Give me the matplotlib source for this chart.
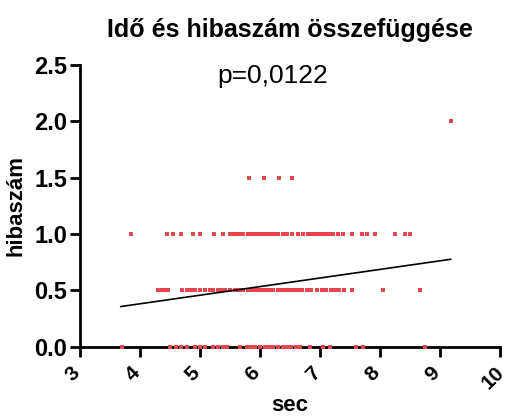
import matplotlib.pyplot as plt
import matplotlib.transforms as mtransforms
import numpy as np

plt.rcParams['font.family'] = ['Liberation Sans', 'DejaVu Sans']

# hibaszám szintek és a hozzájuk tartozó idők (sec)
sec_2 = [9.18]
sec_15 = [5.82, 6.07, 6.32, 6.53]
sec_1 = [3.85, 4.45, 4.55, 4.68, 4.88, 5.0, 5.23, 5.38, 5.5, 5.55, 5.6, 5.67, 5.72,
         5.8, 5.85, 5.9, 5.95, 6.0, 6.05, 6.1, 6.15, 6.2, 6.25, 6.3, 6.38,
         6.45, 6.53, 6.63, 6.72, 6.8, 6.85, 6.9, 6.95, 7.0, 7.05, 7.1, 7.17, 7.22,
         7.3, 7.38, 7.53, 7.7, 7.78, 7.92, 8.25, 8.42, 8.5]
sec_05 = [4.3, 4.35, 4.42, 4.47, 4.7, 4.78, 4.85, 4.92, 5.0, 5.08, 5.17, 5.22, 5.3,
          5.35, 5.42, 5.5, 5.58, 5.65, 5.72, 5.8, 5.85, 5.9, 5.95, 6.0, 6.05, 6.1,
          6.15, 6.22, 6.3, 6.35, 6.4, 6.45, 6.5, 6.55, 6.6, 6.65, 6.7, 6.78, 6.85,
          6.95, 7.03, 7.1, 7.18, 7.25, 7.32, 7.4, 7.53, 8.05, 8.67]
sec_0 = [3.7, 4.5, 4.6, 4.68, 4.78, 4.92, 5.0, 5.08, 5.22, 5.3, 5.38, 5.45, 5.67,
         5.78, 5.85, 5.92, 6.0, 6.08, 6.15, 6.22, 6.3, 6.38, 6.45, 6.52, 6.6, 6.67,
         6.83, 7.05, 7.17, 7.6, 7.72, 8.75]

# regressziós egyenes végpontjai
line_x = [3.68, 9.18]
line_y = [0.355, 0.775]

fig = plt.figure(figsize=(5.06, 4.17), dpi=100)
ax = fig.add_axes([0.158, 0.169, 0.83, 0.675])

red = '#E5474C'
for xs, yv in [(sec_2, 2.0), (sec_15, 1.5), (sec_1, 1.0), (sec_05, 0.5), (sec_0, 0.0)]:
    ax.scatter(xs, [yv] * len(xs), marker='s', s=5, color=red, lw=0, zorder=3, clip_on=False)

ax.plot(line_x, line_y, color='black', lw=1.2, zorder=4)

ax.set_xlim(3, 10)
ax.set_ylim(0, 2.5)
ax.set_xticks(range(3, 11))
ax.set_yticks(np.arange(0, 2.51, 0.5))
ax.set_yticklabels([f'{v:.1f}' for v in np.arange(0, 2.51, 0.5)])

for s in ['top', 'right']:
    ax.spines[s].set_visible(False)
for s in ['left', 'bottom']:
    ax.spines[s].set_linewidth(2)
ax.tick_params(direction='out', length=7, width=2, labelsize=17)
ax.tick_params(axis='x', pad=5, labelsize=15)
ax.tick_params(axis='y', pad=2)
shift = mtransforms.ScaledTranslation(-7 / 100, 0, fig.dpi_scale_trans)
for lab in ax.get_xticklabels():
    lab.set_rotation(45)
    lab.set_ha('center')
    lab.set_va('top')
    lab.set_transform(lab.get_transform() + shift)
for lab in ax.get_xticklabels() + ax.get_yticklabels():
    lab.set_fontweight('bold')

ax.set_xlabel('sec', fontsize=16, fontweight='bold', va='center')
ax.xaxis.set_label_coords(0.5, -0.21)
ax.set_ylabel('hibaszám', fontsize=16, fontweight='bold', labelpad=6)
ax.set_title('Idő és hibaszám összefüggése', fontsize=18, fontweight='bold', pad=20)
ax.text(6.22, 2.4, 'p=0,0122', fontsize=19, ha='center', va='center')

fig.savefig('out.png', dpi=100)
